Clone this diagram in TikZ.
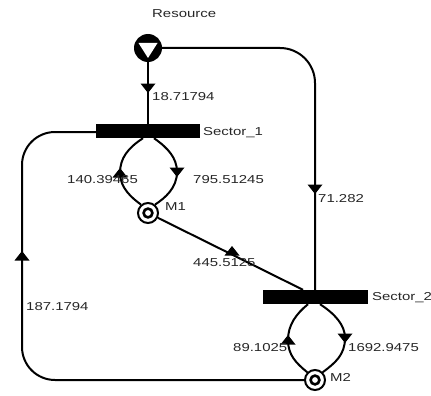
\documentclass[tikz,border=0pt]{standalone}
\usepackage{fontspec}
\newfontfamily\lab[FakeStretch=1.3]{Liberation Sans}
\begin{document}
\begin{tikzpicture}[x=1pt,y=-1pt,
  bar/.style={rectangle,fill=black,draw=none,inner sep=0,minimum width=104pt,minimum height=14pt},
  place/.style={circle,draw,fill=white,line width=2pt,minimum size=20pt,inner sep=0,
    path picture={\draw[line width=2.6pt] (path picture bounding box.center) circle (4.4pt);}},
  res/.style={circle,fill=black,draw=none,minimum size=28pt,inner sep=0,
    path picture={\fill[white] ([shift={(-9.5,-5)}]path picture bounding box.center) -- ([shift={(9.5,-5)}]path picture bounding box.center) -- ([shift={(0,10)}]path picture bounding box.center) -- cycle;}},
  lab/.style={font=\lab\fontsize{11.5}{13}\selectfont,text=black!85,inner sep=0,anchor=west},
  conn/.style={line width=2pt},
  uptri/.pic={\fill (-7.5,4.5) -- (7.5,4.5) -- (0,-5) -- cycle;},
  downtri/.pic={\fill (-7.5,-4.5) -- (7.5,-4.5) -- (0,5) -- cycle;}
]
\useasboundingbox (0,0) rectangle (431,396);
% nodes
\node[res] (r) at (148,48) {};
\node[bar] (s1) at (148,131) {};
\node[bar,minimum width=105pt] (s2) at (315,297) {};
\node[place] (m1) at (148,213) {};
\node[place] (m2) at (315,380) {};
% connectors
\draw[conn] (r.south) -- (s1.north);
\draw[conn,rounded corners=35pt] (r.east) -- (315,48) -- (s2.north);
\draw[conn] (m1.-26) -- ([xshift=-12pt]s2.north);
\draw[conn,rounded corners=33pt] (m2.west) -- (22,380) -- (22,132) -- (s1.west |- 0,132);
\draw[conn] ([xshift=-5pt]s1.south) .. controls (128,148) and (120,158) .. (120,173) .. controls (120,188) and (132,198) .. (m1.130);
\draw[conn] ([xshift=6pt]s1.south) .. controls (168,148) and (177,158) .. (177,172) .. controls (177,188) and (165,198) .. (m1.50);
\draw[conn] ([xshift=-7pt]s2.south) .. controls (296,314) and (288,325) .. (288,340) .. controls (288,355) and (296,363) .. (m2.135);
\draw[conn] ([xshift=5pt]s2.south) .. controls (335,314) and (345,325) .. (345,338) .. controls (345,355) and (335,363) .. (m2.45);
% arrowheads
\pic at (148,88) {downtri};
\pic at (315,189) {downtri};
\pic at (120,173) {uptri};
\pic at (177,172) {downtri};
\pic at (232,251) {uptri};
\pic at (22,256) {uptri};
\pic at (288,340) {uptri};
\pic at (345,338) {downtri};
% labels
\node[lab] (lr) at (152,14) {Resource};
\node[lab] (l1) at (152,97) {18.71794};
\node[lab] (ls1) at (203,133) {Sector\_1};
\node[lab] (l2) at (67,180) {140.39465};
\node[lab] (l3) at (193,180) {795.51245};
\node[lab] (lm1) at (165,207) {M1};
\node[lab] (l4) at (318,199) {71.282};
\node[lab] (l5) at (193,263) {445.5125};
\node[lab] (ls2) at (372,298) {Sector\_2};
\node[lab] (l6) at (26,307) {187.1794};
\node[lab] (l7) at (233,348) {89.1025};
\node[lab] (l8) at (348,348) {1692.9475};
\node[lab] (lm2) at (330,377) {M2};
\end{tikzpicture}
\end{document}
